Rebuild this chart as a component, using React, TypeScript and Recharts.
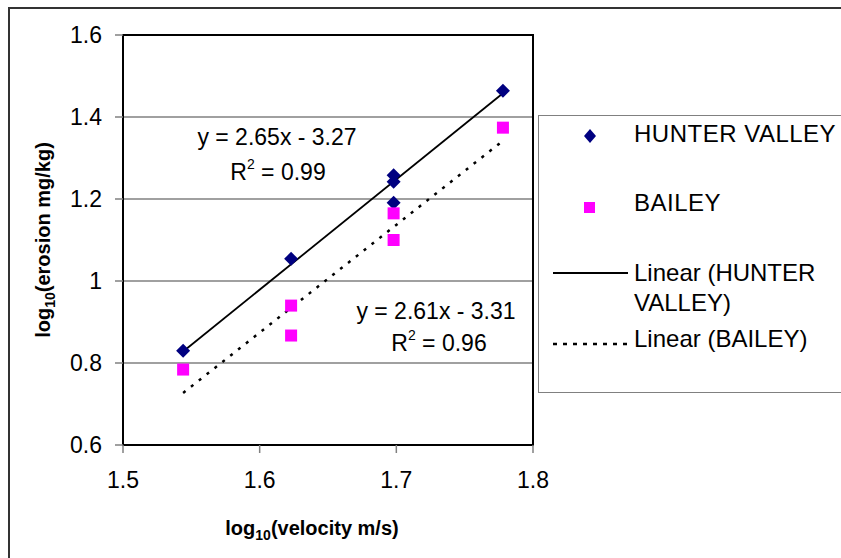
import React from 'react';
import {
  ScatterChart, Scatter, XAxis, YAxis, CartesianGrid, ReferenceArea, Legend, Label,
} from 'recharts';

// values
const hunterX = [1.544, 1.623, 1.698, 1.698, 1.698, 1.778];
const hunterY = [0.83, 1.054, 1.258, 1.242, 1.191, 1.464];
const baileyX = [1.544, 1.623, 1.623, 1.698, 1.698, 1.778];
const baileyY = [0.784, 0.94, 0.867, 1.165, 1.1, 1.374];

// trendline end points
const trendX = [1.544, 1.778];
const hunterTrendY = [0.828, 1.458];
const baileyTrendY = [0.727, 1.342];

const xTicks = [1.5, 1.6, 1.7, 1.8];
const yTicks = [0.6, 0.8, 1, 1.2, 1.4, 1.6];

const toPoints = (xs: number[], ys: number[]) => xs.map((x, i) => ({ x, y: ys[i] }));

const hunterData = toPoints(hunterX, hunterY);
const baileyData = toPoints(baileyX, baileyY);
const hunterTrend = toPoints(trendX, hunterTrendY);
const baileyTrend = toPoints(trendX, baileyTrendY);

const FONT = '"Liberation Sans", Arial, sans-serif';
const NAVY = '#000080';
const MAGENTA = '#ff00ff';

const Diamond = (props: any) => {
  const { cx, cy } = props;
  const r = 7;
  return <polygon points={`${cx},${cy - r} ${cx + r},${cy} ${cx},${cy + r} ${cx - r},${cy}`} fill={NAVY} />;
};

const Square = (props: any) => {
  const { cx, cy } = props;
  return <rect x={cx - 6} y={cy - 6} width={12} height={12} fill={MAGENTA} />;
};

const NoDot = () => <g />;

const legendText: React.CSSProperties = { position: 'absolute', left: 95, whiteSpace: 'nowrap', lineHeight: '30px' };

const LegendBox = () => (
  <div style={{
    position: 'relative', width: 320, height: 278, border: '1.5px solid #808080',
    boxSizing: 'border-box', background: '#fff', fontFamily: FONT, fontSize: 24, color: '#000',
  }}>
    <svg width={90} height={278} style={{ position: 'absolute', left: 0, top: 0 }}>
      <polygon points="51,13 57,20 51,27 45,20" fill={NAVY} />
      <rect x={45} y={86} width={11} height={11} fill={MAGENTA} />
      <line x1={14} x2={89} y1={157} y2={157} stroke="#000" strokeWidth={2} />
      <line x1={14} x2={89} y1={228} y2={228} stroke="#000" strokeWidth={2.5} strokeDasharray="4 6" />
    </svg>
    <div style={{ ...legendText, top: 3, letterSpacing: 0.5 }}>HUNTER VALLEY</div>
    <div style={{ ...legendText, top: 72, letterSpacing: 0.5 }}>BAILEY</div>
    <div style={{ ...legendText, top: 142 }}>Linear (HUNTER<br />VALLEY)</div>
    <div style={{ ...legendText, top: 208 }}>Linear (BAILEY)</div>
  </div>
);

const XTitle = (props: any) => {
  const { viewBox } = props;
  const cx = viewBox.x + viewBox.width / 2 - 16;
  return (
    <text x={cx} y={535} textAnchor="middle" fontFamily={FONT} fontSize={20} fontWeight="bold" fill="#000">
      log<tspan fontSize={14} dy={5}>10</tspan><tspan dy={-5}>(velocity m/s)</tspan>
    </text>
  );
};

const YTitle = (props: any) => {
  const { viewBox } = props;
  const cy = viewBox.y + viewBox.height / 2;
  const cx = 50;
  return (
    <text x={cx} y={cy} transform={`rotate(-90, ${cx}, ${cy})`} textAnchor="middle" fontFamily={FONT}
      fontSize={20} fontWeight="bold" fill="#000">
      log<tspan fontSize={14} dy={5}>10</tspan><tspan dy={-5}>(erosion mg/kg)</tspan>
    </text>
  );
};

const eqStyle: React.CSSProperties = {
  position: 'absolute', fontFamily: FONT, fontSize: 23, color: '#000', whiteSpace: 'nowrap',
  transform: 'translate(-50%, -50%)', lineHeight: 1,
};
const supStyle: React.CSSProperties = { fontSize: 14, verticalAlign: 'top', position: 'relative', top: -4 };

const tickStyle = { fill: '#000', fontSize: 23, fontFamily: FONT };

export default function App() {
  return (
    <div style={{ position: 'absolute', left: 0, top: 0, width: 841, height: 558, overflow: 'hidden', background: '#fff' }}>
      <div style={{
        position: 'absolute', left: 8, top: 7, width: 1000, height: 1000,
        borderTop: '2px solid #333', borderLeft: '2px solid #333',
      }} />
      <div style={{ position: 'absolute', left: 0, top: 0 }}>
        <ScatterChart width={841} height={558} margin={{ top: 35, right: 308, bottom: 73, left: 63 }}>
          <CartesianGrid vertical={false} stroke="#808080" strokeWidth={1.5} />
          <XAxis type="number" dataKey="x" domain={[1.5, 1.8]} ticks={xTicks} height={40}
            tick={tickStyle} tickSize={8} tickMargin={19}
            axisLine={false} tickLine={{ stroke: '#808080', strokeWidth: 1.5 }}
            allowDataOverflow>
            <Label content={<XTitle />} />
          </XAxis>
          <YAxis type="number" dataKey="y" domain={[0.6, 1.6]} ticks={yTicks} width={60}
            tick={tickStyle} tickSize={8} tickMargin={13}
            axisLine={false} tickLine={{ stroke: '#808080', strokeWidth: 1.5 }}
            allowDataOverflow>
            <Label content={<YTitle />} />
          </YAxis>
          <ReferenceArea x1={1.5} x2={1.8} y1={0.6} y2={1.6} fill="none" stroke="#000" strokeWidth={2} fillOpacity={0} strokeOpacity={1} />
          <Scatter name="Linear (HUNTER VALLEY)" data={hunterTrend} line={{ stroke: '#000', strokeWidth: 1.8 }}
            shape={NoDot} isAnimationActive={false} legendType="none" />
          <Scatter name="Linear (BAILEY)" data={baileyTrend}
            line={{ stroke: '#000', strokeWidth: 2.5, strokeDasharray: '3 7' }}
            shape={NoDot} isAnimationActive={false} legendType="none" />
          <Scatter name="HUNTER VALLEY" data={hunterData} shape={Diamond} isAnimationActive={false} />
          <Scatter name="BAILEY" data={baileyData} shape={Square} isAnimationActive={false} />
          <Legend layout="vertical" align="center" verticalAlign="middle" content={<LegendBox />}
            wrapperStyle={{ left: 538, top: 115, width: 320, height: 278 }} />
        </ScatterChart>
      </div>
      <div style={{ ...eqStyle, left: 277, top: 137 }}>y = 2.65x - 3.27</div>
      <div style={{ ...eqStyle, left: 278, top: 172 }}>R<span style={supStyle}>2</span> = 0.99</div>
      <div style={{ ...eqStyle, left: 436, top: 311 }}>y = 2.61x - 3.31</div>
      <div style={{ ...eqStyle, left: 439, top: 343 }}>R<span style={supStyle}>2</span> = 0.96</div>
    </div>
  );
}
